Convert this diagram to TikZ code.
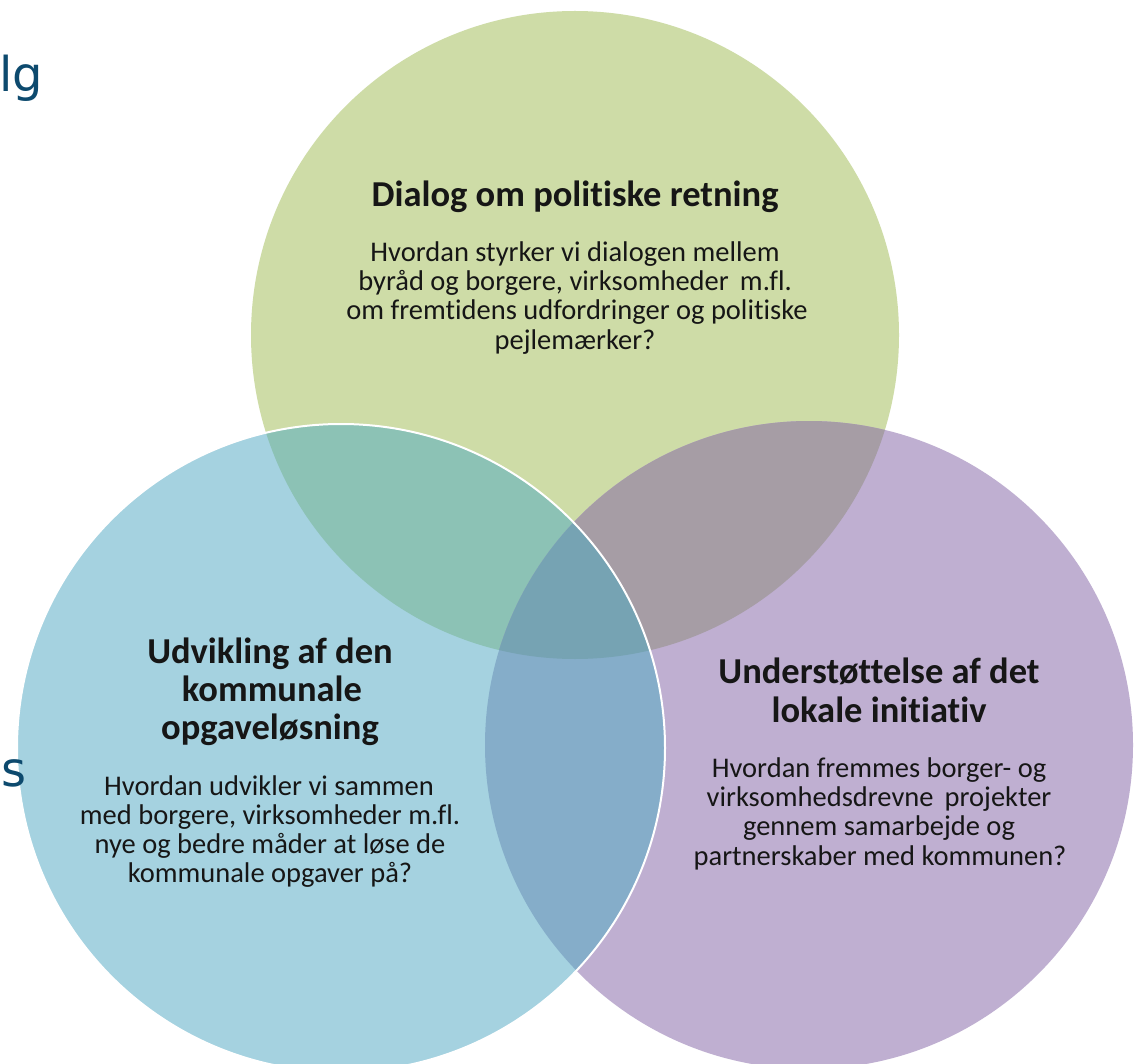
\documentclass[tikz,border=0pt]{standalone}
\usepackage{fontspec}
\setmainfont[Ligatures=NoCommon]{Carlito}
\newfontfamily\slidefont{DejaVu Sans}
\definecolor{cgreen}{HTML}{CEDCA7}
\definecolor{cblue}{HTML}{A5D2E0}
\definecolor{cpurple}{HTML}{BFAFD1}
\definecolor{cgb}{HTML}{8CC2B5}
\definecolor{cgp}{HTML}{A69DA5}
\definecolor{cbp}{HTML}{85ADC9}
\definecolor{cgbp}{HTML}{76A3B3}
\definecolor{txt}{HTML}{161616}
\definecolor{slideblue}{HTML}{0D4A6E}
\begin{document}
\begin{tikzpicture}[x=1pt,y=-1pt,
  ttl/.style={font=\fontsize{36.5}{42}\selectfont\bfseries, text=txt, inner sep=0pt, anchor=base},
  bdy/.style={font=\fontsize{28.5}{34}\selectfont, text=txt, inner sep=0pt, anchor=base},
  frag/.style={font=\slidefont\fontsize{48}{54}\selectfont, text=slideblue, inner sep=0pt}]
\useasboundingbox (0,0) rectangle (1140,1064);
\fill[white] (0,0) rectangle (1140,1064);
\coordinate (G) at (575,335);
\coordinate (B) at (341,748);
\coordinate (P) at (809,745);
% circles
\fill[cgreen] (G) circle (324pt);
\fill[cpurple] (P) circle (324pt);
\fill[cblue] (B) circle (324pt);
\begin{scope}
  \clip (G) circle (324pt);
  \fill[cgb] (B) circle (324pt);
  \fill[cgp] (P) circle (324pt);
\end{scope}
\begin{scope}
  \clip (B) circle (324pt);
  \fill[cbp] (P) circle (324pt);
  \clip (G) circle (324pt);
  \fill[cgbp] (P) circle (324pt);
\end{scope}
\draw[white, line width=2pt] (B) circle (324pt);
% slide fragments (in front)
\node[frag, anchor=base west] (fragA) at (-1,92) {lg};
\node[frag, anchor=base east] (fragB) at (27,786) {s};
% green texts
\node[ttl] (g0) at (575,207) {Dialog om politiske retning};
\node[bdy] (g1) at (575,262) {Hvordan styrker vi dialogen mellem};
\node[bdy] (g2) at (575,291) {byråd og borgere, virksomheder\, m.fl.};
\node[bdy] (g3) at (577,320) {om fremtidens udfordringer og politiske};
\node[bdy] (g4) at (575,350) {pejlemærker?};
% blue texts
\node[ttl] (b0) at (270,663) {Udvikling af den};
\node[ttl] (b1) at (272,701) {kommunale};
\node[ttl] (b2) at (270,739) {opgaveløsning};
\node[bdy] (b3) at (269,795) {Hvordan udvikler vi sammen};
\node[bdy] (b4) at (270,824) {med borgere, virksomheder m.fl.};
\node[bdy] (b5) at (270,853) {nye og bedre måder at løse de};
\node[bdy] (b6) at (270,882) {kommunale opgaver på?};
% purple texts
\node[ttl] (p0) at (879,683) {Understøttelse af det};
\node[ttl] (p1) at (879,722) {lokale initiativ};
\node[bdy] (p2) at (879,777) {Hvordan fremmes borger- og};
\node[bdy] (p3) at (879,806) {virksomhedsdrevne\, projekter};
\node[bdy] (p4) at (879,835) {gennem samarbejde og};
\node[bdy] (p5) at (880,865) {partnerskaber med kommunen?};
\end{tikzpicture}
\end{document}
